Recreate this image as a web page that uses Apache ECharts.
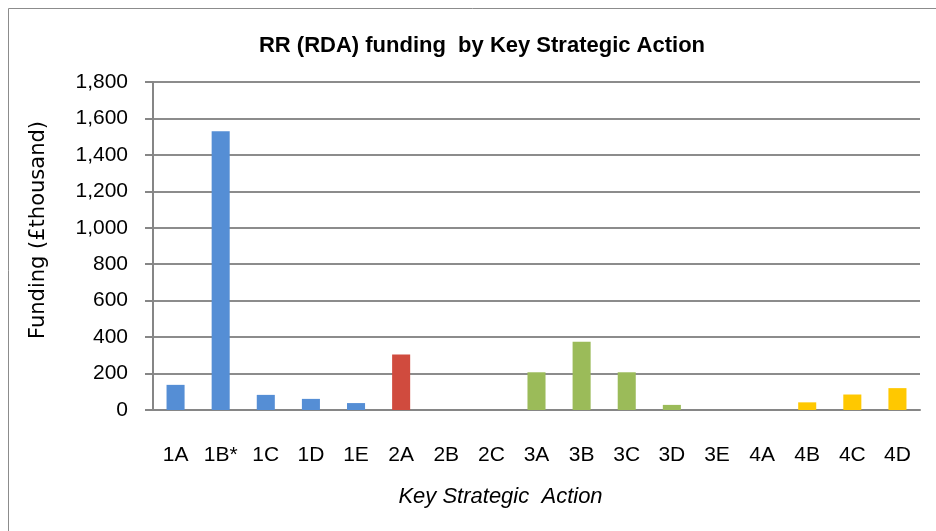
<!DOCTYPE html>
<html>
<head>
<meta charset="utf-8">
<script src="https://cdn.jsdelivr.net/npm/echarts@6/dist/echarts.min.js"></script>
<style>
  html, body { margin: 0; padding: 0; background: #fff; }
  #chart { width: 936px; height: 531px; }
</style>
</head>
<body>
<div id="chart"></div>
<script>
var myChart = echarts.init(document.getElementById('chart'));

// values (£ thousand)
var categories = ['1A', '1B*', '1C', '1D', '1E', '2A', '2B', '2C', '3A', '3B', '3C', '3D', '3E', '4A', '4B', '4C', '4D'];
var funding = [138, 1530, 83, 61, 38, 305, 0, 0, 207, 375, 207, 28, 0, 0, 42, 85, 120];
var yTicks = [0, 200, 400, 600, 800, 1000, 1200, 1400, 1600, 1800];

// one colour per strategic group (first digit of the code)
var groupColors = { '1': '#558ed5', '2': '#d04b3e', '3': '#9bbb59', '4': '#ffc800' };

var font = "'Liberation Sans', Arial, sans-serif";

var option = {
  animation: false,
  graphic: [{
    type: 'rect',
    shape: { x: 8.5, y: 8.5, width: 940, height: 540 },
    style: { fill: 'none', stroke: '#8c8c8c', lineWidth: 1 }
  }],
  title: {
    text: 'RR (RDA) funding  by Key Strategic Action',
    left: 477,
    textAlign: 'center',
    top: 30,
    textStyle: { fontFamily: font, fontSize: 22, fontWeight: 'bold', color: '#000' }
  },
  grid: { left: 153, right: 16, top: 82, bottom: 121 },
  xAxis: {
    type: 'category',
    data: categories,
    name: 'Key Strategic  Action',
    nameLocation: 'middle',
    nameGap: 76,
    nameTextStyle: {
      fontFamily: font, fontSize: 22, fontStyle: 'italic', color: '#000',
      padding: [0, 72, 0, 0]
    },
    axisLine: { lineStyle: { color: '#868686', width: 2 } },
    axisTick: { length: 10, lineStyle: { color: '#868686', width: 2 } },
    axisLabel: { margin: 35, fontFamily: font, fontSize: 21, color: '#000' }
  },
  yAxis: {
    type: 'value',
    min: yTicks[0],
    max: yTicks[yTicks.length - 1],
    interval: 200,
    name: 'Funding (£thousand)',
    nameLocation: 'middle',
    nameGap: 104,
    nameTextStyle: {
      fontFamily: "'DejaVu Sans', sans-serif", fontSize: 21, color: '#000',
      padding: [0, 0, 0, 32]
    },
    axisLine: { show: true, lineStyle: { color: '#868686', width: 2 } },
    axisTick: { show: true, length: 8, lineStyle: { color: '#868686', width: 2 } },
    axisLabel: {
      margin: 25, fontFamily: font, fontSize: 21, color: '#000',
      formatter: function (v) { return v.toLocaleString('en-GB'); }
    },
    splitLine: { lineStyle: { color: '#8c8c8c', width: 2 } }
  },
  series: [{
    type: 'bar',
    barWidth: '40%',
    data: funding.map(function (v, i) {
      return { value: v, itemStyle: { color: groupColors[categories[i].charAt(0)] } };
    })
  }]
};
myChart.setOption(option);
</script>
</body>
</html>
